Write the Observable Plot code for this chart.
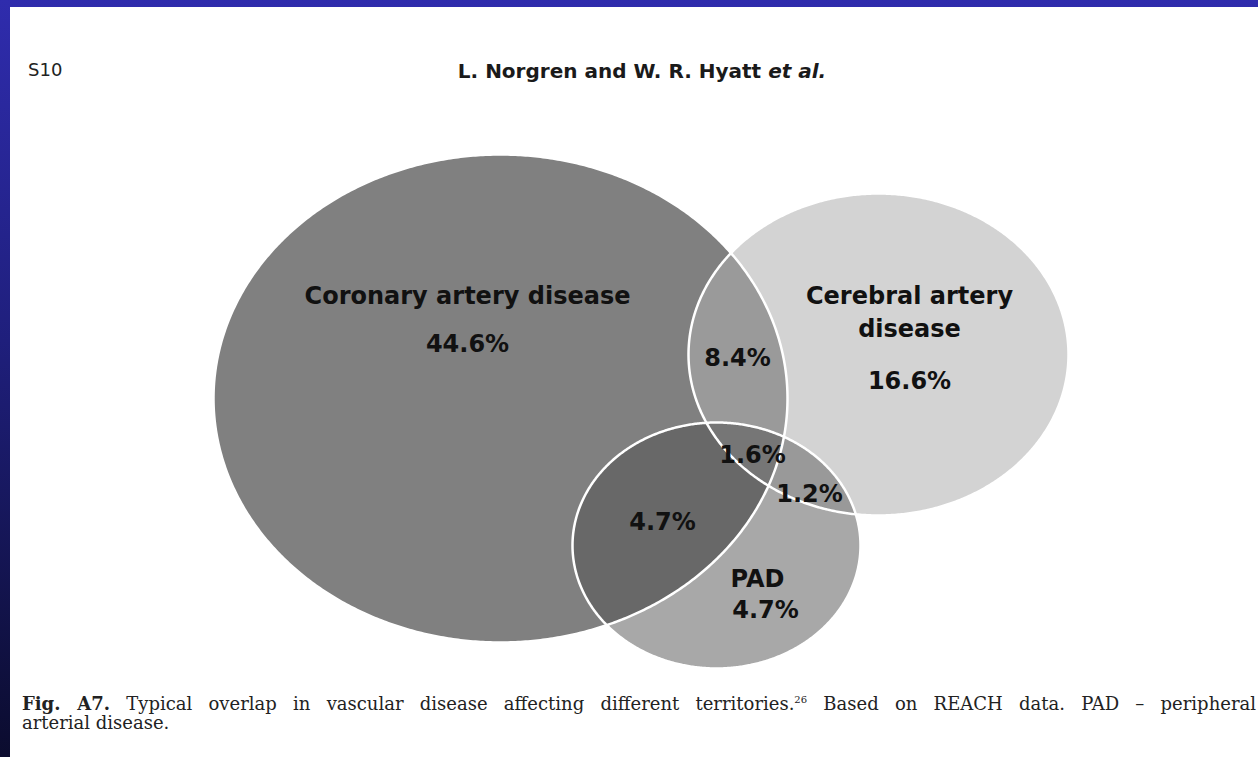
<!DOCTYPE html>
<html>
<head>
<meta charset="utf-8">
<script src="https://cdn.jsdelivr.net/npm/d3@7"></script>
<script src="https://cdn.jsdelivr.net/npm/@observablehq/plot@0.6"></script>
<style>
  html, body { margin: 0; padding: 0; width: 1258px; height: 757px; overflow: hidden; }
  body { background: linear-gradient(to bottom, #2f2cad 0%, #1f1f7c 45%, #0b0c2e 100%); position: relative; }
  #page { position: absolute; left: 10px; top: 7px; width: 1248px; height: 750px; background: #ffffff; }
  #folio { position: absolute; left: 18px; top: 52px; font: 18px "DejaVu Sans", sans-serif; color: #222; }
  #authors { position: absolute; left: 0; width: 1264px; text-align: center; top: 52px; font: bold 20px "DejaVu Sans", sans-serif; color: #1a1a1a; }
  #chart { position: absolute; left: 0; top: 120px; }
  #caption { position: absolute; left: 12px; top: 687px; width: 1234px; font: 18px "DejaVu Serif", serif; color: #222; line-height: 19px; }
  #caption .l1 { text-align: justify; text-align-last: justify; }
  #caption sup { font-size: 10px; vertical-align: 7px; line-height: 0; }
</style>
</head>
<body>
<div id="page">
  <div id="folio">S10</div>
  <div id="authors">L. Norgren and W. R. Hyatt <i>et al.</i></div>
  <div id="chart"></div>
  <div id="caption">
    <div class="l1"><b>Fig. A7.</b> Typical overlap in vascular disease affecting different territories.<sup>26</sup> Based on REACH data. PAD – peripheral</div>
    <div>arterial disease.</div>
  </div>
</div>
<script>
// ---- data ----
const setKeys = ["CAD", "CVD", "PAD"];
const setNames = ["Coronary artery disease", "Cerebral artery\ndisease", "PAD"];
const regionKeys = ["CAD", "CVD", "PAD", "CAD&CVD", "CAD&PAD", "CVD&PAD", "CAD&CVD&PAD"];
const regionValues = [44.6, 16.6, 4.7, 8.4, 4.7, 1.2, 1.6];

// ---- layout (page pixel coordinates) ----
const ellipseLayout = {
  CAD: {cx: 500, cy: 398, rx: 287, ry: 244},
  CVD: {cx: 878, cy: 354, rx: 190, ry: 161},
  PAD: {cx: 716, cy: 545, rx: 144, ry: 123}
};
const nameLayout = {CAD: [467, 293], CVD: [909, 309.5], PAD: [757, 576]};
const valueLayout = {
  "CAD": [467, 341], "CVD": [909, 378], "PAD": [765, 607],
  "CAD&CVD": [737, 355], "CAD&PAD": [662, 519], "CVD&PAD": [809, 491], "CAD&CVD&PAD": [752, 452]
};
const regionFill = {
  "CAD": "#808080", "CVD": "#d3d3d3", "PAD": "#a8a8a8",
  "CAD&CVD": "#9a9a9a", "CAD&PAD": "#686868", "CVD&PAD": "#999999", "CAD&CVD&PAD": "#767676"
};

// ---- geometry helpers ----
function boundary(e, n = 720) {
  return d3.range(n).map(i => {
    const t = 2 * Math.PI * i / n;
    return [e.cx + e.rx * Math.cos(t), e.cy + e.ry * Math.sin(t)];
  });
}
function inside(e, p) {
  return ((p[0] - e.cx) / e.rx) ** 2 + ((p[1] - e.cy) / e.ry) ** 2 <= 1 + 1e-9;
}
function intersection(keys) {
  const es = keys.map(k => ellipseLayout[k]);
  const pts = [];
  es.forEach((e, i) => {
    boundary(e).forEach(p => {
      if (es.every((f, j) => j === i || inside(f, p))) pts.push(p);
    });
  });
  const mx = d3.mean(pts, p => p[0]), my = d3.mean(pts, p => p[1]);
  pts.sort((a, b) => Math.atan2(a[1] - my, a[0] - mx) - Math.atan2(b[1] - my, b[0] - mx));
  return pts;
}

const fillMarks = regionKeys.map(key => {
  const parts = key.split("&");
  const pts = parts.length === 1 ? boundary(ellipseLayout[key]) : intersection(parts);
  return Plot.line(pts, {x: d => d[0], y: d => d[1], fill: regionFill[key], stroke: "none", curve: "linear-closed"});
});
const outlineMarks = setKeys.map(k =>
  Plot.line(boundary(ellipseLayout[k]), {x: d => d[0], y: d => d[1], stroke: "#ffffff", strokeWidth: 2.5, fill: "none", curve: "linear-closed"})
);

const nameData = setKeys.map((k, i) => ({label: setNames[i], x: nameLayout[k][0], y: nameLayout[k][1]}));
const valueData = regionKeys.map((k, i) => ({label: regionValues[i].toFixed(1) + "%", x: valueLayout[k][0], y: valueLayout[k][1]}));

const textStyle = {fontFamily: "DejaVu Sans", fontWeight: "bold", fontSize: 24, fill: "#111111", textAnchor: "middle", lineHeight: 1.375};

const chart = Plot.plot({
  width: 1248,
  height: 560,
  margin: 0,
  x: {domain: [10, 1258], range: [0, 1248], axis: null},
  y: {domain: [127, 687], range: [0, 560], axis: null},
  style: {background: "transparent", overflow: "visible"},
  marks: [
    ...fillMarks,
    ...outlineMarks,
    Plot.text(nameData, {x: "x", y: "y", text: "label", ...textStyle}),
    Plot.text(valueData, {x: "x", y: "y", text: "label", ...textStyle})
  ]
});
document.getElementById("chart").appendChild(chart);
</script>
</body>
</html>
